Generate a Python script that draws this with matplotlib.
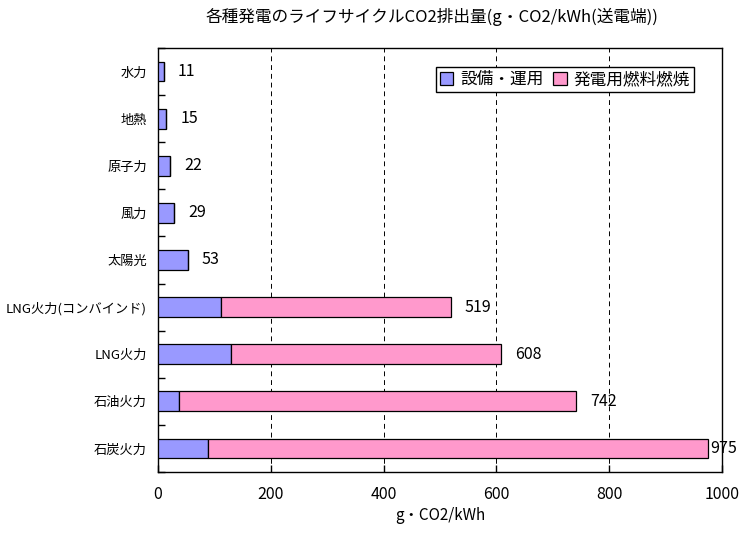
import matplotlib.pyplot as plt
import numpy as np

plt.rcParams['font.family'] = ['Noto Sans CJK JP', 'DejaVu Sans']

# データ（上から順）
categories = ['水力', '地熱', '原子力', '風力', '太陽光',
              'LNG火力(コンバインド)', 'LNG火力', '石油火力', '石炭火力']
setsubi = [11, 15, 22, 29, 53, 111, 130, 38, 88]      # 設備・運用
nenryo = [0, 0, 0, 0, 0, 408, 478, 704, 887]          # 発電用燃料燃焼
totals = [11, 15, 22, 29, 53, 519, 608, 742, 975]
xticks = [0, 200, 400, 600, 800, 1000]

fig = plt.figure(figsize=(7.44, 5.33), dpi=100)
ax = fig.add_axes([0.2124, 0.1144, 0.758, 0.7956])

y = np.arange(len(categories))
h = 0.42
ax.barh(y, setsubi, height=h, color='#9999FF', edgecolor='black', linewidth=0.9,
        label='設備・運用', zorder=3)
ax.barh(y, nenryo, left=setsubi, height=h, color='#FF99CC', edgecolor='black',
        linewidth=0.9, label='発電用燃料燃焼', zorder=3)

# 数値ラベル
for yi, v in zip(y, totals):
    pad = 2 if v > 950 else 10
    ax.annotate(str(v), (v, yi), xytext=(pad, 0), textcoords='offset points',
                ha='left', va='center', fontsize=11.5, annotation_clip=False)

ax.set_xlim(0, 1000)
ax.set_ylim(len(categories) - 0.5, -0.5)
ax.set_xticks(xticks)
ax.set_yticks(y)
ax.set_yticklabels(categories, fontsize=9.5)
ax.set_yticks(np.arange(len(categories) + 1) - 0.5, minor=True)
ax.tick_params(axis='y', which='major', length=0, pad=8)
ax.tick_params(axis='y', which='minor', direction='in', length=5, width=1)
ax.tick_params(axis='x', direction='in', length=5, width=1, pad=10, labelsize=11.5)

ax.grid(axis='x', linestyle=(0, (5, 4)), color='black', linewidth=0.7, zorder=0)
for s in ax.spines.values():
    s.set_linewidth(1.0)

ax.set_xlabel('g・CO2/kWh', fontsize=11, labelpad=3)
fig.suptitle('各種発電のライフサイクルCO2排出量(g・CO2/kWh(送電端))',
             fontsize=12, x=0.58, y=0.985)

leg = ax.legend(loc='upper right', bbox_to_anchor=(0.965, 0.975), ncol=2,
                fontsize=12, handlelength=0.8, handleheight=0.8,
                handletextpad=0.4, columnspacing=0.6, borderpad=0.25,
                fancybox=False, framealpha=1, edgecolor='black')
leg.get_frame().set_linewidth(1.0)

plt.savefig('out.png', dpi=100)
